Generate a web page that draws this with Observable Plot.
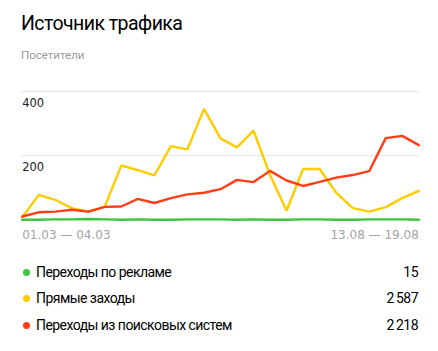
<!DOCTYPE html>
<html>
<head>
<meta charset="utf-8">
<script src="https://cdn.jsdelivr.net/npm/d3@7"></script>
<script src="https://cdn.jsdelivr.net/npm/@observablehq/plot@0.6"></script>
<style>
  html, body { margin: 0; padding: 0; background: #fff; }
  #wrap { position: relative; width: 438px; height: 351px; overflow: hidden; font-family: Roboto, "Noto Sans", sans-serif; }
  #title { position: absolute; left: 21px; top: 10px; font-size: 19.5px; color: #000; line-height: 28px; letter-spacing: -0.55px; }
  #subtitle { position: absolute; left: 21px; top: 47px; font-size: 11.5px; color: #9a9a9a; line-height: 16px; }
  #chart { position: absolute; left: 0; top: 80px; }
  .row { position: absolute; left: 0; width: 438px; height: 20px; font-size: 14px; color: #000; line-height: 20px; letter-spacing: -0.55px; }
  .dot { position: absolute; left: 23px; top: 6.5px; width: 7px; height: 7px; border-radius: 50%; }
  .lab { position: absolute; left: 36px; top: 0; }
  .val { position: absolute; right: 20px; top: 0; }
</style>
</head>
<body>
<div id="wrap">
  <div id="title"></div>
  <div id="subtitle"></div>
  <div id="chart"></div>
  <div id="legend"></div>
</div>
<script>
const title = "Источник трафика";
const subtitle = "Посетители";
const seriesNames = ["Переходы по рекламе", "Прямые заходы", "Переходы из поисковых систем"];
const seriesTotals = ["15", "2\u2009587", "2\u2009218"];
const seriesColors = ["#3ec43e", "#ffcc00", "#ff3d17"];
const periodLabels = ["01.03 — 04.03", "13.08 — 19.08"];
const yTicks = [200, 400];

const adsValues    = [0,0,1,1,2,1,0,1,0,0,1,1,1,0,1,0,0,1,1,0,0,1,1,1,0];
const directValues = [8,77,62,36,25,41,169,154,138,229,219,345,253,225,277,139,28,158,158,84,36,25,39,67,90];
const searchValues = [10,23,25,31,25,40,41,65,52,67,79,84,95,124,117,152,122,105,118,131,139,151,254,261,232];

document.getElementById("title").textContent = title;
document.getElementById("subtitle").textContent = subtitle;

const allValues = [adsValues, directValues, searchValues];
const data = [];
allValues.forEach((vals, s) => vals.forEach((v, i) => data.push({series: seriesNames[s], i, v})));

const n = directValues.length;
const xLabelData = [{i: 0, t: periodLabels[0], a: "start"}, {i: n - 1, t: periodLabels[1], a: "end"}];

const chart = Plot.plot({
  width: 438,
  height: 170,
  marginLeft: 21.7,
  marginRight: 19.7,
  marginTop: 10.7,
  marginBottom: 30.8,
  x: {domain: [0, n - 1], axis: null},
  y: {domain: [0, 400], axis: null},
  color: {domain: seriesNames, range: seriesColors},
  style: {fontFamily: "DejaVu Sans, sans-serif", background: "transparent"},
  marks: [
    Plot.ruleY(yTicks, {stroke: "#ebebeb", strokeWidth: 1.5}),
    Plot.text(yTicks, {x: 0, y: d => d, text: d => String(d), dy: 12, textAnchor: "start", fontSize: 11.5, fill: "#222"}),
    Plot.text(xLabelData.filter(d => d.a === "start"), {x: "i", frameAnchor: "bottom", lineAnchor: "middle", dy: 15.5, text: "t", textAnchor: "start", fontSize: 12, fill: "#a3a3a3"}),
    Plot.text(xLabelData.filter(d => d.a === "end"), {x: "i", frameAnchor: "bottom", lineAnchor: "middle", dy: 15.5, text: "t", textAnchor: "end", fontSize: 12, fill: "#a3a3a3"}),
    Plot.line(data, {x: "i", y: "v", z: "series", stroke: "series", strokeWidth: 2.4, strokeLinejoin: "miter", strokeLinecap: "round"})
  ]
});
document.getElementById("chart").appendChild(chart);

const legend = document.getElementById("legend");
const rowTops = [262, 288, 315];
seriesNames.forEach((name, s) => {
  const row = document.createElement("div");
  row.className = "row";
  row.style.top = rowTops[s] + "px";
  row.innerHTML = `<span class="dot" style="background:${seriesColors[s]}"></span><span class="lab"></span><span class="val"></span>`;
  row.querySelector(".lab").textContent = name;
  row.querySelector(".val").textContent = seriesTotals[s];
  legend.appendChild(row);
});
</script>
</body>
</html>
